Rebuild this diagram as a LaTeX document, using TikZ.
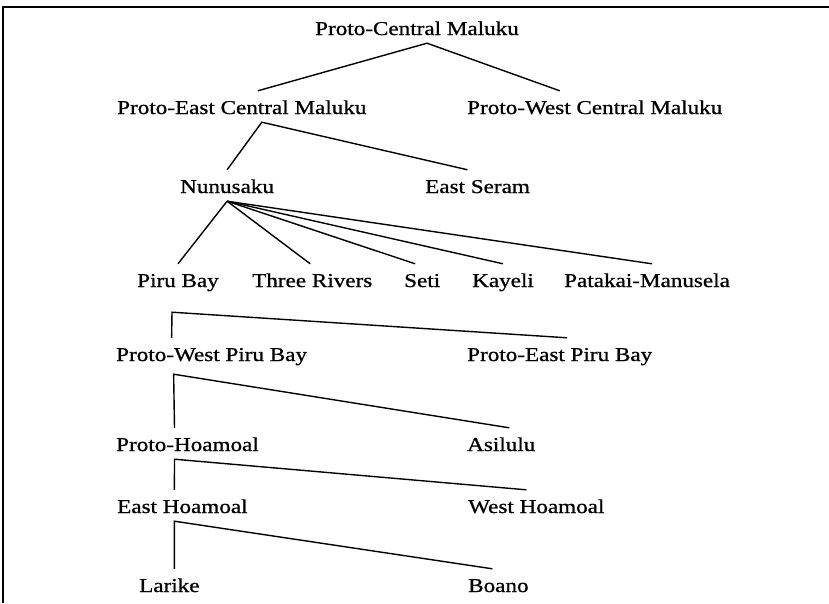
\documentclass[tikz,border=0pt]{standalone}
\usepackage{fontspec}
\setmainfont[FakeStretch=1.18,FakeBold=0.8]{Liberation Serif}
\usetikzlibrary{positioning}
\newcommand\treefont{\fontsize{19.6}{22}\selectfont}
\tikzset{
  lang/.style={anchor=base west,inner xsep=0pt,inner ysep=8pt,
    text height=15pt,text depth=0pt,font=\treefont},
  branch/.style={line width=1.4pt,line join=miter},
  frame/.style={line width=1.6pt},
}
\begin{document}
\begin{tikzpicture}[x=1pt,y=-1pt]
  \useasboundingbox (0,0) rectangle (829,603);
  \draw[frame] (3,603) -- (3,7) -- (829,7);
  % levels
  \node[lang] (pcm) at (315,35) {Proto-Central Maluku};
  \node[lang] (pecm) at (117,114) {Proto-East Central Maluku};
  \node[lang] (pwcm) at (467,114) {Proto-West Central Maluku};
  \node[lang] (nunu) at (180,193) {Nunusaku};
  \node[lang] (seram) at (425,193) {East Seram};
  \node[lang] (piru) at (137,287) {Piru Bay};
  \node[lang] (three) at (252,287) {Three Rivers};
  \node[lang] (seti) at (404,287) {Seti};
  \node[lang] (kayeli) at (472,287) {Kayeli};
  \node[lang] (patakai) at (564,287) {Patakai-Manusela};
  \node[lang] (pwpb) at (116,361) {Proto-West Piru Bay};
  \node[lang] (pepb) at (467,361) {Proto-East Piru Bay};
  \node[lang] (ph) at (116,451) {Proto-Hoamoal};
  \node[lang] (asilulu) at (467,451) {Asilulu};
  \node[lang] (eh) at (117,513) {East Hoamoal};
  \node[lang] (wh) at (468,513) {West Hoamoal};
  \node[lang] (larike) at (139,592) {Larike};
  \node[lang] (boano) at (468,592) {Boano};
  % branches
  \draw[branch] ([xshift=16pt]pecm.north) -- ([xshift=10pt]pcm.south) -- ([xshift=-35pt]pwcm.north);
  \draw[branch] (nunu.north) -- ([xshift=20pt]pecm.south) -- ([xshift=-10pt]seram.north);
  \foreach \n/\dx in {piru/0,three/-2,seti/-7,kayeli/0,patakai/5}
    \draw[branch] (nunu.south) -- ([xshift=\dx pt]\n.north);
  \foreach \p/\l/\r/\px/\py/\lx/\rx in {piru/pwpb/pepb/-6/-17/-40/7.5,
      pwpb/ph/asilulu/-38/-5/-13/8,ph/eh/wh/-13/0/-8/-10,eh/larike/boano/-8/0/5/-6}
    \draw[branch] ([xshift=\lx pt]\l.north) -- ([xshift=\px pt,yshift=\py pt]\p.south)
      -- ([xshift=\rx pt]\r.north);
\end{tikzpicture}
\end{document}
